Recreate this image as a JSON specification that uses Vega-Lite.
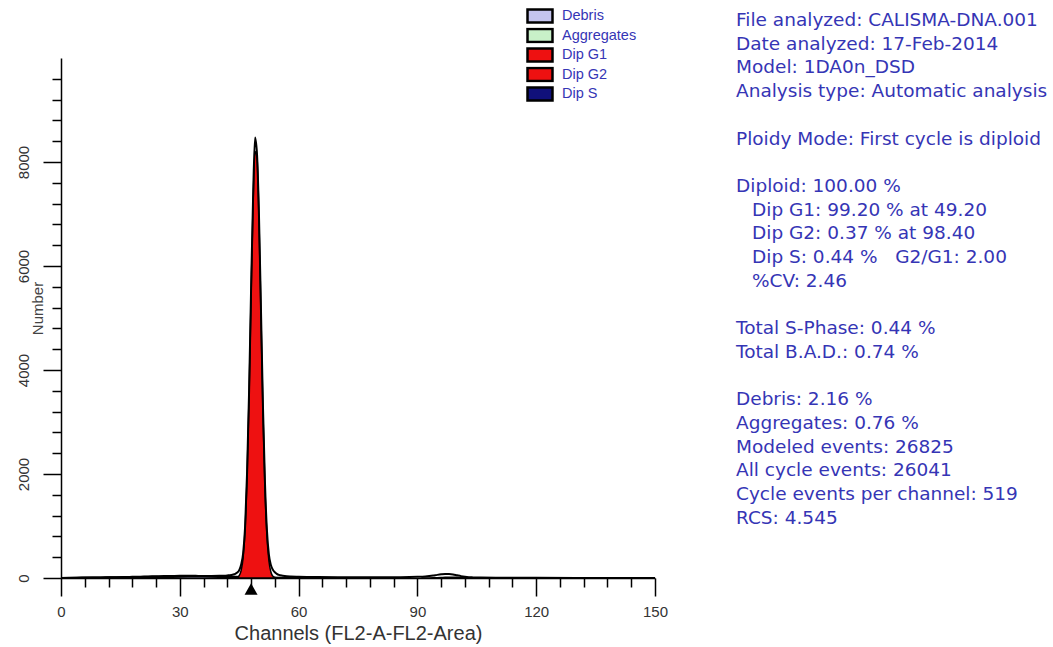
{
  "$schema": "https://vega.github.io/schema/vega-lite/v6.json",
  "width": 594,
  "height": 520,
  "autosize": {"type": "none"},
  "padding": {"left": 61, "top": 58, "right": 398, "bottom": 69},
  "background": "white",
  "config": {
    "view": {"stroke": null},
    "axis": {
      "grid": false,
      "domainColor": "black",
      "domainWidth": 1.5,
      "tickColor": "black",
      "tickWidth": 1.5,
      "labelFont": "Liberation Sans",
      "labelFontSize": 15,
      "labelColor": "#333333",
      "labelFlush": false,
      "labelOverlap": false
    },
    "legend": {
      "orient": "none",
      "legendX": 465,
      "legendY": -50,
      "padding": 0,
      "symbolType": "M-1,-0.52L1,-0.52L1,0.52L-1,0.52Z",
      "symbolSize": 625,
      "symbolStrokeColor": "black",
      "symbolStrokeWidth": 2.5,
      "symbolOpacity": 1,
      "labelFont": "Liberation Sans",
      "labelFontSize": 14.5,
      "labelColor": "#3535b5",
      "labelOffset": 8,
      "clipHeight": 16,
      "rowPadding": 3.5
    }
  },
  "datasets": {
    "histogram": [
      {"channel": 0, "count": 0}, {"channel": 2, "count": 3}, {"channel": 4, "count": 6}, {"channel": 6, "count": 8},
      {"channel": 8, "count": 10}, {"channel": 10, "count": 12}, {"channel": 12, "count": 14}, {"channel": 14, "count": 16},
      {"channel": 16, "count": 18}, {"channel": 18, "count": 22}, {"channel": 20, "count": 26}, {"channel": 22, "count": 30},
      {"channel": 24, "count": 34}, {"channel": 26, "count": 38}, {"channel": 28, "count": 40}, {"channel": 30, "count": 42},
      {"channel": 32, "count": 42}, {"channel": 34, "count": 41}, {"channel": 36, "count": 40}, {"channel": 38, "count": 40},
      {"channel": 40, "count": 42}, {"channel": 41, "count": 45}, {"channel": 42, "count": 50}, {"channel": 43, "count": 58},
      {"channel": 43.5, "count": 66}, {"channel": 44, "count": 80}, {"channel": 44.5, "count": 105}, {"channel": 45, "count": 150},
      {"channel": 45.5, "count": 260}, {"channel": 46, "count": 480}, {"channel": 46.5, "count": 1000}, {"channel": 47, "count": 2050},
      {"channel": 47.5, "count": 3600}, {"channel": 48, "count": 5550}, {"channel": 48.5, "count": 7300}, {"channel": 49, "count": 8470},
      {"channel": 49.5, "count": 8150}, {"channel": 50, "count": 6950}, {"channel": 50.5, "count": 5150}, {"channel": 51, "count": 3300},
      {"channel": 51.5, "count": 1850}, {"channel": 52, "count": 920}, {"channel": 52.5, "count": 450}, {"channel": 53, "count": 250},
      {"channel": 53.5, "count": 160}, {"channel": 54, "count": 110}, {"channel": 54.5, "count": 80}, {"channel": 55, "count": 60},
      {"channel": 56, "count": 45}, {"channel": 57, "count": 35}, {"channel": 58, "count": 30}, {"channel": 60, "count": 25},
      {"channel": 65, "count": 18}, {"channel": 70, "count": 15}, {"channel": 75, "count": 14}, {"channel": 80, "count": 14},
      {"channel": 85, "count": 16}, {"channel": 88, "count": 18}, {"channel": 90, "count": 22}, {"channel": 92, "count": 30},
      {"channel": 93, "count": 38}, {"channel": 94, "count": 48}, {"channel": 95, "count": 60}, {"channel": 96, "count": 70},
      {"channel": 97, "count": 76}, {"channel": 98, "count": 76}, {"channel": 99, "count": 68}, {"channel": 100, "count": 52},
      {"channel": 101, "count": 36}, {"channel": 102, "count": 24}, {"channel": 103, "count": 16}, {"channel": 104, "count": 12},
      {"channel": 106, "count": 8}, {"channel": 110, "count": 5}, {"channel": 120, "count": 3}, {"channel": 130, "count": 2},
      {"channel": 140, "count": 1}, {"channel": 150, "count": 1}
    ],
    "model": [
      {"component": "Debris", "channel": 0, "count": 0}, {"component": "Debris", "channel": 4, "count": 8},
      {"component": "Debris", "channel": 8, "count": 14}, {"component": "Debris", "channel": 12, "count": 18},
      {"component": "Debris", "channel": 16, "count": 22}, {"component": "Debris", "channel": 20, "count": 26},
      {"component": "Debris", "channel": 24, "count": 29}, {"component": "Debris", "channel": 28, "count": 31},
      {"component": "Debris", "channel": 32, "count": 32}, {"component": "Debris", "channel": 36, "count": 32},
      {"component": "Debris", "channel": 40, "count": 31}, {"component": "Debris", "channel": 44, "count": 29},
      {"component": "Debris", "channel": 48, "count": 24}, {"component": "Debris", "channel": 52, "count": 16},
      {"component": "Debris", "channel": 56, "count": 9}, {"component": "Debris", "channel": 60, "count": 4},
      {"component": "Debris", "channel": 65, "count": 1}, {"component": "Debris", "channel": 70, "count": 0},
      {"component": "Dip G1", "channel": 43.5, "count": 0}, {"component": "Dip G1", "channel": 44, "count": 3},
      {"component": "Dip G1", "channel": 44.5, "count": 12}, {"component": "Dip G1", "channel": 45, "count": 45},
      {"component": "Dip G1", "channel": 45.5, "count": 145}, {"component": "Dip G1", "channel": 46, "count": 401},
      {"component": "Dip G1", "channel": 46.5, "count": 960}, {"component": "Dip G1", "channel": 47, "count": 1983},
      {"component": "Dip G1", "channel": 47.5, "count": 3530}, {"component": "Dip G1", "channel": 48, "count": 5420},
      {"component": "Dip G1", "channel": 48.5, "count": 7180}, {"component": "Dip G1", "channel": 49, "count": 8200},
      {"component": "Dip G1", "channel": 49.5, "count": 8080}, {"component": "Dip G1", "channel": 50, "count": 6870},
      {"component": "Dip G1", "channel": 50.5, "count": 5030}, {"component": "Dip G1", "channel": 51, "count": 3180},
      {"component": "Dip G1", "channel": 51.5, "count": 1735}, {"component": "Dip G1", "channel": 52, "count": 816},
      {"component": "Dip G1", "channel": 52.5, "count": 331}, {"component": "Dip G1", "channel": 53, "count": 116},
      {"component": "Dip G1", "channel": 53.5, "count": 35}, {"component": "Dip G1", "channel": 54, "count": 9},
      {"component": "Dip G1", "channel": 54.5, "count": 2}, {"component": "Dip G1", "channel": 55, "count": 0},
      {"component": "Dip G2", "channel": 91, "count": 0}, {"component": "Dip G2", "channel": 92, "count": 0.5},
      {"component": "Dip G2", "channel": 93, "count": 1.3}, {"component": "Dip G2", "channel": 94, "count": 3.2},
      {"component": "Dip G2", "channel": 95, "count": 6.1}, {"component": "Dip G2", "channel": 96, "count": 9.7},
      {"component": "Dip G2", "channel": 97, "count": 13.6}, {"component": "Dip G2", "channel": 98, "count": 15.8},
      {"component": "Dip G2", "channel": 99, "count": 15.5}, {"component": "Dip G2", "channel": 100, "count": 12.6},
      {"component": "Dip G2", "channel": 101, "count": 8.9}, {"component": "Dip G2", "channel": 102, "count": 5.4},
      {"component": "Dip G2", "channel": 103, "count": 2.6}, {"component": "Dip G2", "channel": 104, "count": 1.2},
      {"component": "Dip G2", "channel": 105, "count": 0.4}, {"component": "Dip G2", "channel": 106, "count": 0}
    ],
    "marker": [{"channel": 48}],
    "report": [
      {"line": 1, "level": 0, "text": "File analyzed: CALISMA-DNA.001"},
      {"line": 2, "level": 0, "text": "Date analyzed: 17-Feb-2014"},
      {"line": 3, "level": 0, "text": "Model: 1DA0n_DSD"},
      {"line": 4, "level": 0, "text": "Analysis type: Automatic analysis"},
      {"line": 6, "level": 0, "text": "Ploidy Mode: First cycle is diploid"},
      {"line": 8, "level": 0, "text": "Diploid: 100.00 %"},
      {"line": 9, "level": 1, "text": "Dip G1: 99.20 % at 49.20"},
      {"line": 10, "level": 1, "text": "Dip G2: 0.37 % at 98.40"},
      {"line": 11, "level": 1, "text": "Dip S: 0.44 %\u00a0\u00a0\u00a0G2/G1: 2.00"},
      {"line": 12, "level": 1, "text": "%CV: 2.46"},
      {"line": 14, "level": 0, "text": "Total S-Phase: 0.44 %"},
      {"line": 15, "level": 0, "text": "Total B.A.D.: 0.74 %"},
      {"line": 17, "level": 0, "text": "Debris: 2.16 %"},
      {"line": 18, "level": 0, "text": "Aggregates: 0.76 %"},
      {"line": 19, "level": 0, "text": "Modeled events: 26825"},
      {"line": 20, "level": 0, "text": "All cycle events: 26041"},
      {"line": 21, "level": 0, "text": "Cycle events per channel: 519"},
      {"line": 22, "level": 0, "text": "RCS: 4.545"}
    ]
  },
  "layer": [
    {
      "layer": [
        {
          "data": {"name": "histogram"},
          "mark": {"type": "point", "opacity": 0},
          "encoding": {
            "x": {
              "field": "channel", "type": "quantitative",
              "scale": {"domain": [0, 150], "nice": false},
              "axis": {
                "orient": "bottom",
                "values": [0, 30, 60, 90, 120, 150],
                "format": "d",
                "tickSize": 18,
                "labelPadding": 8,
                "labelBaseline": "top",
                "title": "Channels (FL2-A-FL2-Area)",
                "titleFont": "Liberation Sans",
                "titleFontSize": 20,
                "titleFontWeight": "normal",
                "titleColor": "#333333",
                "titleY": 61,
                "titleBaseline": "alphabetic"
              }
            },
            "y": {
              "field": "count", "type": "quantitative",
              "scale": {"domain": [0, 10000], "nice": false},
              "axis": {
                "orient": "left",
                "values": [0, 2000, 4000, 6000, 8000],
                "format": "d",
                "tickSize": 18,
                "labelAngle": 270,
                "labelAlign": "center",
                "labelBaseline": "bottom",
                "labelPadding": 12,
                "title": "Number",
                "titleAngle": 270,
                "titleX": -24,
                "titleY": 250,
                "titleAlign": "center",
                "titleBaseline": "middle",
                "titleFont": "Liberation Sans",
                "titleFontSize": 15,
                "titleFontWeight": "normal",
                "titleColor": "#444444"
              }
            }
          }
        },
        {
          "data": {"name": "histogram"},
          "mark": {"type": "point", "opacity": 0},
          "encoding": {
            "x": {
              "field": "channel", "type": "quantitative",
              "scale": {"domain": [0, 150], "nice": false},
              "axis": {
                "orient": "bottom",
                "values": [6, 12, 18, 24, 36, 42, 48, 54, 66, 72, 78, 84, 96, 102, 108, 114, 126, 132, 138, 144],
                "tickSize": 9,
                "labels": false,
                "domain": false,
                "title": null
              }
            },
            "y": {
              "field": "count", "type": "quantitative",
              "scale": {"domain": [0, 10000], "nice": false},
              "axis": {
                "orient": "left",
                "values": [400, 800, 1200, 1600, 2400, 2800, 3200, 3600, 4400, 4800, 5200, 5600, 6400, 6800, 7200, 7600, 8400, 8800, 9200, 9600],
                "tickSize": 9,
                "labels": false,
                "domain": false,
                "title": null
              }
            }
          }
        },
        {
          "data": {"name": "model"},
          "mark": {"type": "area", "interpolate": "monotone", "stroke": "black", "strokeWidth": 1.5, "opacity": 1, "fillOpacity": 1},
          "encoding": {
            "x": {"field": "channel", "type": "quantitative", "scale": {"domain": [0, 150], "nice": false}, "axis": null},
            "y": {"field": "count", "type": "quantitative", "stack": null, "scale": {"domain": [0, 10000], "nice": false}, "axis": null},
            "fill": {
              "field": "component", "type": "nominal",
              "scale": {
                "domain": ["Debris", "Aggregates", "Dip G1", "Dip G2", "Dip S"],
                "range": ["#c4c4ee", "#c8f0c8", "#ee1111", "#ee1111", "#10107a"]
              },
              "legend": {"title": null}
            }
          }
        },
        {
          "data": {"name": "histogram"},
          "mark": {"type": "line", "interpolate": "monotone", "color": "black", "strokeWidth": 2},
          "encoding": {
            "x": {"field": "channel", "type": "quantitative", "scale": {"domain": [0, 150], "nice": false}, "axis": null},
            "y": {"field": "count", "type": "quantitative", "scale": {"domain": [0, 10000], "nice": false}, "axis": null}
          }
        },
        {
          "data": {"name": "marker"},
          "mark": {"type": "point", "shape": "triangle-up", "filled": true, "color": "black", "opacity": 1, "size": 170, "yOffset": 11},
          "encoding": {
            "x": {"field": "channel", "type": "quantitative", "scale": {"domain": [0, 150], "nice": false}, "axis": null},
            "y": {"datum": 0, "type": "quantitative", "scale": {"domain": [0, 10000], "nice": false}, "axis": null}
          }
        }
      ],
      "resolve": {"axis": {"x": "independent", "y": "independent"}}
    },
    {
      "data": {"name": "report"},
      "mark": {"type": "text", "align": "left", "baseline": "middle", "font": "DejaVu Sans", "fontSize": 18.5, "color": "#3535b5"},
      "encoding": {
        "x": {"field": "level", "type": "quantitative", "scale": {"domain": [-42.1875, -5.0625], "nice": false, "zero": false}, "axis": null},
        "y": {"field": "line", "type": "quantitative", "scale": {"domain": [2.6027, 24.535], "nice": false, "zero": false, "reverse": true}, "axis": null},
        "text": {"field": "text", "type": "nominal"}
      }
    }
  ],
  "resolve": {"scale": {"x": "independent", "y": "independent"}}
}
